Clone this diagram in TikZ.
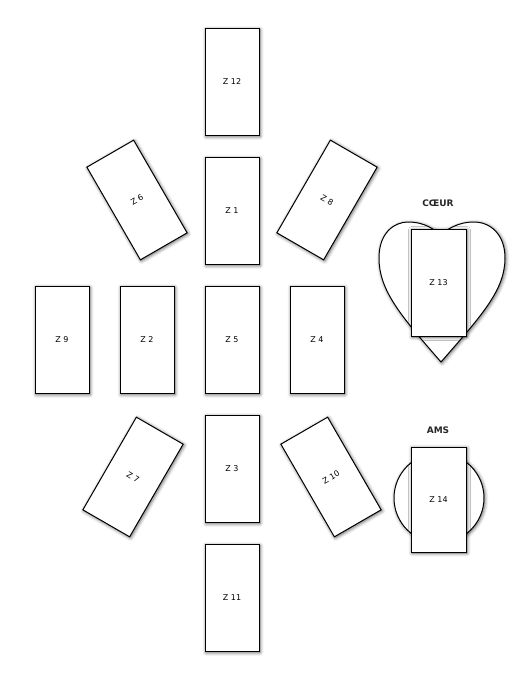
\documentclass[tikz,border=0pt]{standalone}
\usepackage{fontspec}
\setmainfont{DejaVu Sans}
\usetikzlibrary{positioning,shadows.blur}

\begin{document}
\begin{tikzpicture}[
    x=1pt, y=1pt,
    font=\fontsize{8}{9}\selectfont,
    node distance=21pt and 30pt,
    zone/.style={
        draw=black,
        line width=1pt,
        fill=white,
        minimum width=54pt,
        minimum height=107pt,
        inner sep=0pt,
        blur shadow={shadow xshift=1pt, shadow yshift=-1pt, shadow blur radius=3.5pt, shadow opacity=65}
    },
    organ/.style={
        draw=black,
        line width=1pt,
        fill=white,
        blur shadow={shadow xshift=1pt, shadow yshift=-1pt, shadow blur radius=3.5pt, shadow opacity=65}
    },
    title/.style={font=\fontsize{9}{10}\selectfont\bfseries, text=black!85}
]
\useasboundingbox (0,0) rectangle (530,-681);

% Central column
\node[zone] (z12) at (232,-82) {Z 12};
\node[zone, below=of z12] (z1) {Z 1};
\node[zone, below=of z1] (z5) {Z 5};
\node[zone, below=of z5] (z3) {Z 3};
\node[zone, below=of z3] (z11) {Z 11};

% Middle row
\node[zone, left=of z5] (z2) {Z 2};
\node[zone, left=of z2] (z9) {Z 9};
\node[zone, right=of z5] (z4) {Z 4};

% Tilted zones
\node[zone, rotate=30] (z6) at (137,-200) {Z 6};
\node[zone, rotate=-30] (z8) at (327,-200) {Z 8};
\node[zone, rotate=-30] (z7) at (133,-477) {Z 7};
\node[zone, rotate=30] (z10) at (331,-477) {Z 10};

% Heart
\node[title] (coeurlabel) at (438,-203) {CŒUR};
\draw[organ] (441,-362)
    .. controls (400,-315) and (379,-290) .. (379,-258)
    .. controls (379,-232) and (395,-222) .. (408,-222)
    .. controls (425,-222) and (436,-230) .. (440,-236)
    .. controls (446,-230) and (457,-222) .. (474,-222)
    .. controls (490,-222) and (505,-234) .. (505,-258)
    .. controls (505,-290) and (482,-315) .. (441,-362) -- cycle;
\node[zone, minimum width=55pt, minimum height=107pt] (z13) at (438.5,-282.5) {Z 13};

% AMS
\node[title] (amslabel) at (438,-430) {AMS};
\node[organ, circle, minimum size=90pt] (ams) at (439,-498) {};
\node[zone, minimum width=55pt, minimum height=105pt] (z14) at (438.5,-499.5) {Z 14};

\end{tikzpicture}
\end{document}
